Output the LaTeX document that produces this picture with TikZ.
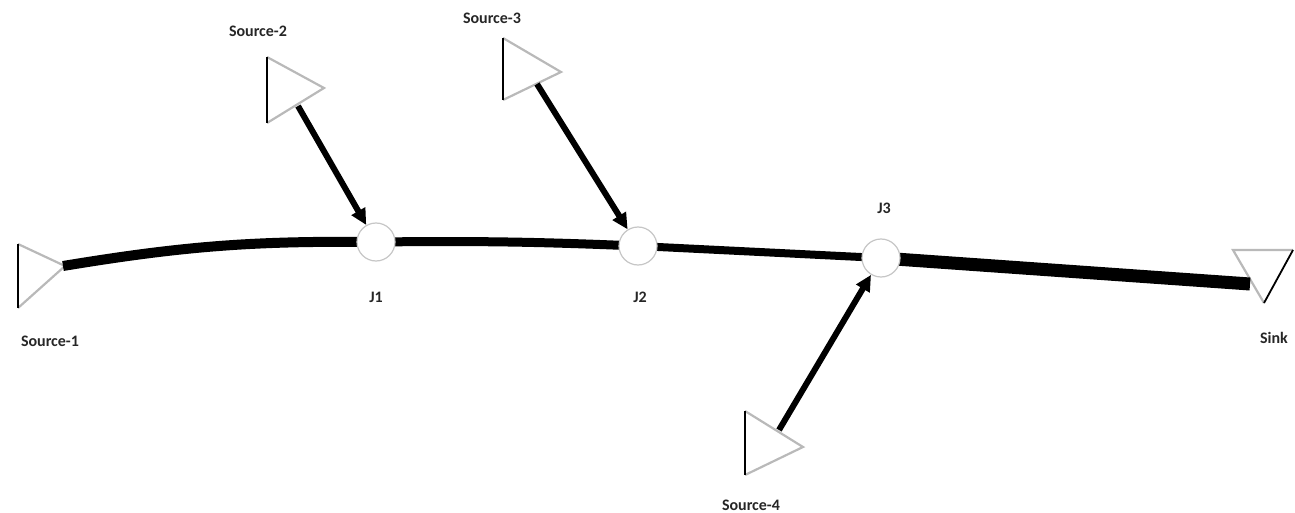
\documentclass[tikz,border=0pt]{standalone}
\usepackage{fontspec}
\setmainfont{Carlito}
\usetikzlibrary{arrows.meta}
\tikzset{
  junction/.style={circle,draw=gray!45,line width=1.2pt,fill=white,minimum size=38pt,inner sep=0pt},
  pipe/.style={line width=10pt,black},
  feed/.style={line width=6pt,black,-{Triangle[length=16pt,width=15pt]}},
  tri/.style={draw=gray!55,line width=2.2pt,line join=miter},
  triedge/.style={draw=black,line width=1.8pt},
  lbl/.style={font=\bfseries\fontsize{16}{18}\selectfont,text=black!85,inner sep=0pt}
}
\begin{document}
\begin{tikzpicture}[x=1pt,y=-1pt]
\useasboundingbox (0,0) rectangle (1295,513);
% junction positions
\coordinate (j1c) at (376,242);
\coordinate (j2c) at (638,246);
\coordinate (j3c) at (881,258);
% triangles
\draw[tri] (18,244) -- (65,266) -- (18,308);
\draw[triedge] (18,244) -- (18,308);
\coordinate (s1) at (63,266);
\draw[tri] (267,57) -- (324,88) -- (267,123);
\draw[triedge] (267,57) -- (267,123);
\coordinate (s2) at (298,106);
\draw[tri] (503,38) -- (561,72) -- (503,100);
\draw[triedge] (503,38) -- (503,100);
\coordinate (s3) at (537,84);
\draw[tri] (745,411) -- (803,447) -- (745,475);
\draw[triedge] (745,411) -- (745,475);
\coordinate (s4) at (779,430);
\draw[tri] (1293,250) -- (1233,250) -- (1264,303);
\draw[triedge] (1293,250) -- (1264,303);
\coordinate (sk) at (1250,284);
% pipes
\draw[pipe] (s1) to[bend left=5] (j1c);
\draw[pipe,line width=9pt] (j1c) to[bend left=1.5] (j2c);
\draw[pipe,line width=8pt] (j2c) -- (j3c);
\draw[pipe,line width=13pt] (j3c) -- (sk);
% junctions
\node[junction] (j1) at (j1c) {};
\node[junction] (j2) at (j2c) {};
\node[junction] (j3) at (j3c) {};
% feeds
\draw[feed] (s2) -- (j1);
\draw[feed] (s3) -- (j2);
\draw[feed] (s4) -- (j3);
% labels
\node[lbl] (l1) at (50,341) {Source-1};
\node[lbl] (l2) at (258,31) {Source-2};
\node[lbl] (l3) at (492,18) {Source-3};
\node[lbl] (l4) at (751,505) {Source-4};
\node[lbl] (lk) at (1274,338) {Sink};
\node[lbl] (lj1) at (376,297) {J1};
\node[lbl] (lj2) at (640,297) {J2};
\node[lbl] (lj3) at (884,208) {J3};
\end{tikzpicture}
\end{document}
